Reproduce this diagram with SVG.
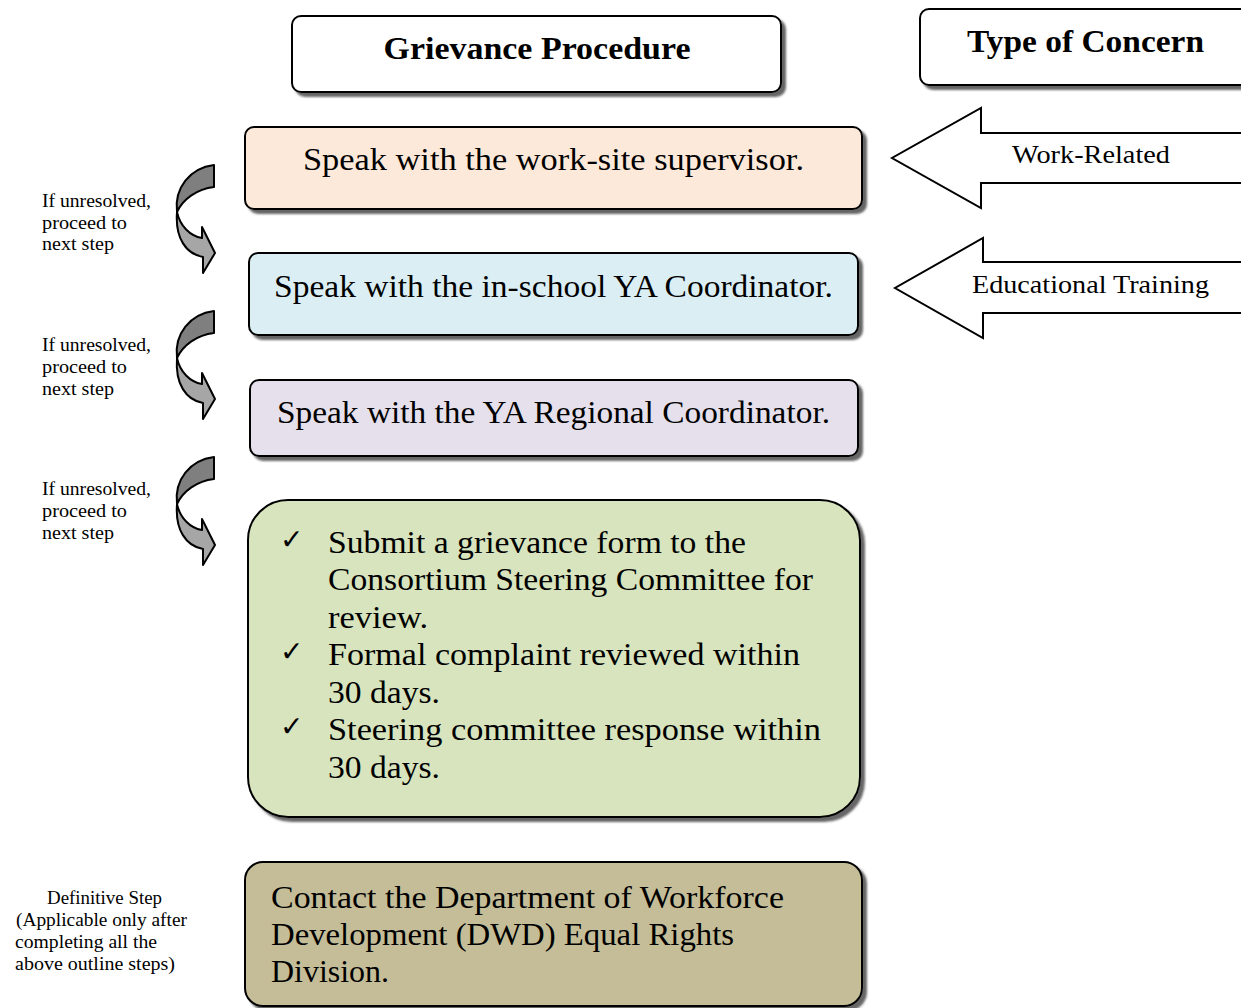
<svg xmlns="http://www.w3.org/2000/svg" width="1241" height="1008" viewBox="0 0 1241 1008">
<defs>
<filter id="sh" x="-5%" y="-5%" width="115%" height="120%">
<feDropShadow dx="4" dy="4" stdDeviation="1" flood-color="#555" flood-opacity="0.9"/>
</filter>
</defs>
<style>
.box{stroke:#000;stroke-width:2;filter:url(#sh)}
.t{font-family:"Liberation Serif","DejaVu Serif",serif;fill:#000}
.big{font-size:31px}
.hd{font-size:32px;font-weight:bold}
.sm{font-size:18px}
.md{font-size:26px}
.ck{font-family:"DejaVu Sans",sans-serif;font-size:28px}
.arr{stroke:#000;stroke-width:2;fill:#fff}
.cd{fill:#7f7f7f;stroke:#000;stroke-width:2;stroke-linejoin:round}
.cl{fill:#a6a6a6;stroke:#000;stroke-width:2;stroke-linejoin:round}
</style>
<rect width="1241" height="1008" fill="#fff"/>

<g id="title-procedure">
<rect class="box" x="292" y="16" width="489" height="76" rx="9" fill="#fff"/>
<text class="t hd" x="537" y="59" text-anchor="middle" textLength="307" lengthAdjust="spacingAndGlyphs">Grievance Procedure</text>
</g>

<g id="title-concern">
<rect class="box" x="920" y="9" width="340" height="76" rx="9" fill="#fff"/>
<text class="t hd" x="967" y="52" textLength="237" lengthAdjust="spacingAndGlyphs">Type of Concern</text>
</g>

<g id="step1">
<rect class="box" x="245" y="127" width="617" height="82" rx="9" fill="#fde9d9"/>
<text class="t big" x="303" y="170" textLength="501" lengthAdjust="spacingAndGlyphs">Speak with the work-site supervisor.</text>
</g>

<g id="step2">
<rect class="box" x="249" y="253" width="609" height="82" rx="9" fill="#daeef3"/>
<text class="t big" x="274" y="297" textLength="559" lengthAdjust="spacingAndGlyphs">Speak with the in-school YA Coordinator.</text>
</g>

<g id="step3">
<rect class="box" x="250" y="380" width="608" height="76" rx="9" fill="#e5e0ec"/>
<text class="t big" x="277" y="423" textLength="553" lengthAdjust="spacingAndGlyphs">Speak with the YA Regional Coordinator.</text>
</g>

<g id="step4">
<rect class="box" x="248" y="500" width="612" height="317" rx="40" fill="#d7e4bd"/>
<text class="ck" x="280" y="549">✓</text>
<text class="ck" x="280" y="661">✓</text>
<text class="ck" x="280" y="736">✓</text>
<text class="t big" x="328" y="553" textLength="418" lengthAdjust="spacingAndGlyphs">Submit a grievance form to the</text>
<text class="t big" x="328" y="590" textLength="485" lengthAdjust="spacingAndGlyphs">Consortium Steering Committee for</text>
<text class="t big" x="328" y="628" textLength="100" lengthAdjust="spacingAndGlyphs">review.</text>
<text class="t big" x="328" y="665" textLength="472" lengthAdjust="spacingAndGlyphs">Formal complaint reviewed within</text>
<text class="t big" x="328" y="703" textLength="112" lengthAdjust="spacingAndGlyphs">30 days.</text>
<text class="t big" x="328" y="740" textLength="493" lengthAdjust="spacingAndGlyphs">Steering committee response within</text>
<text class="t big" x="328" y="778" textLength="112" lengthAdjust="spacingAndGlyphs">30 days.</text>
</g>

<g id="step5">
<rect class="box" x="245" y="862" width="617" height="144" rx="18" fill="#c4bd97"/>
<text class="t big" x="271" y="908" textLength="513" lengthAdjust="spacingAndGlyphs">Contact the Department of Workforce</text>
<text class="t big" x="271" y="945" textLength="463" lengthAdjust="spacingAndGlyphs">Development (DWD) Equal Rights</text>
<text class="t big" x="271" y="982" textLength="118" lengthAdjust="spacingAndGlyphs">Division.</text>
</g>

<g id="concern-work">
<path class="arr" d="M1260,133 L981,133 L981,108 L892,158 L981,208 L981,183 L1260,183"/>
<text class="t md" x="1012" y="163" textLength="158" lengthAdjust="spacingAndGlyphs">Work-Related</text>
</g>

<g id="concern-edu">
<path class="arr" d="M1260,262 L983,262 L983,238 L895,288 L983,338 L983,313 L1260,313"/>
<text class="t md" x="972" y="293" textLength="237" lengthAdjust="spacingAndGlyphs">Educational Training</text>
</g>

<g id="notes">
<text class="t sm" x="42" y="207" textLength="109" lengthAdjust="spacingAndGlyphs">If unresolved,</text>
<text class="t sm" x="42" y="229" textLength="85" lengthAdjust="spacingAndGlyphs">proceed to</text>
<text class="t sm" x="42" y="250" textLength="72" lengthAdjust="spacingAndGlyphs">next step</text>
<text class="t sm" x="42" y="351" textLength="109" lengthAdjust="spacingAndGlyphs">If unresolved,</text>
<text class="t sm" x="42" y="373" textLength="85" lengthAdjust="spacingAndGlyphs">proceed to</text>
<text class="t sm" x="42" y="395" textLength="72" lengthAdjust="spacingAndGlyphs">next step</text>
<text class="t sm" x="42" y="495" textLength="109" lengthAdjust="spacingAndGlyphs">If unresolved,</text>
<text class="t sm" x="42" y="517" textLength="85" lengthAdjust="spacingAndGlyphs">proceed to</text>
<text class="t sm" x="42" y="539" textLength="72" lengthAdjust="spacingAndGlyphs">next step</text>
<text class="t sm" x="47" y="904" textLength="115" lengthAdjust="spacingAndGlyphs">Definitive Step</text>
<text class="t sm" x="16" y="926" textLength="171" lengthAdjust="spacingAndGlyphs">(Applicable only after</text>
<text class="t sm" x="15" y="948" textLength="142" lengthAdjust="spacingAndGlyphs">completing all the</text>
<text class="t sm" x="15" y="970" textLength="160" lengthAdjust="spacingAndGlyphs">above outline steps)</text>
</g>

<g id="connectors">
<g id="curve1">
<path class="cl" d="M177,212 C180,226 190,236 202,238 L202,227 L215,253 L203,273 L203,257 C186,254 175,238 177,212 Z"/>
<path class="cd" d="M214,165 L214,187 C197,189 183,199 177,212 C174,188 190,168 214,165 Z"/>
</g>
<g id="curve2" transform="translate(0,146)">
<path class="cl" d="M177,212 C180,226 190,236 202,238 L202,227 L215,253 L203,273 L203,257 C186,254 175,238 177,212 Z"/>
<path class="cd" d="M214,165 L214,187 C197,189 183,199 177,212 C174,188 190,168 214,165 Z"/>
</g>
<g id="curve3" transform="translate(0,292)">
<path class="cl" d="M177,212 C180,226 190,236 202,238 L202,227 L215,253 L203,273 L203,257 C186,254 175,238 177,212 Z"/>
<path class="cd" d="M214,165 L214,187 C197,189 183,199 177,212 C174,188 190,168 214,165 Z"/>
</g>
</g>
</svg>
